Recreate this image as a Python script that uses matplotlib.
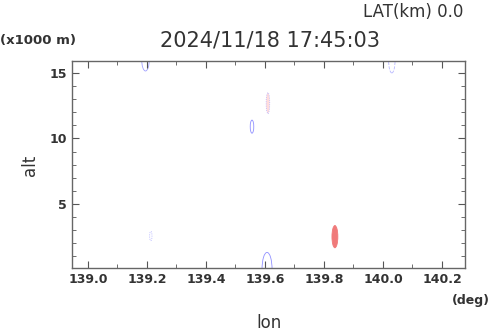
import matplotlib
matplotlib.use("Agg")
import matplotlib.pyplot as plt
from matplotlib.patches import Ellipse
from matplotlib.ticker import MultipleLocator

# echo blobs (lon, alt, width deg, height km)
blob_lon = [139.195, 140.030, 139.556, 139.610, 139.837, 139.213, 139.607]
blob_alt = [16.05, 16.0, 10.9, 12.7, 2.50, 2.55, 0.0]
blob_w = [0.026, 0.022, 0.012, 0.012, 0.020, 0.008, 0.034]
blob_h = [1.8, 2.0, 1.0, 1.6, 1.7, 0.7, 2.6]
blob_fill = ["none", "none", "none", "#ffdcdc", "#f07a7a", "none", "none"]
blob_edge = ["#a0a0ff", "#b8b8ff", "#9090ff", "#b0b0ff", "#f07a7a", "#a8a8ff", "#9090ff"]
blob_ls = ["-", "--", "-", ":", "-", ":", "-"]

xticks = [139.0, 139.2, 139.4, 139.6, 139.8, 140.0, 140.2]
yticks = [5, 10, 15]

txt = "#333333"
fig = plt.figure(figsize=(4.9, 3.31), dpi=100)
ax = fig.add_axes([0.147, 0.190, 0.802, 0.626])

for i in range(len(blob_lon)):
    e = Ellipse((blob_lon[i], blob_alt[i]), blob_w[i], blob_h[i],
                facecolor=blob_fill[i], edgecolor=blob_edge[i],
                linewidth=0.6, linestyle=blob_ls[i])
    ax.add_patch(e)

ax.set_xlim(138.946, 140.278)
ax.set_ylim(0.1, 15.92)
ax.set_xticks(xticks)
ax.set_xticklabels(["%.1f" % v for v in xticks])
ax.set_yticks(yticks)
ax.xaxis.set_minor_locator(MultipleLocator(0.1))
ax.yaxis.set_minor_locator(MultipleLocator(1))
ax.tick_params(which="both", direction="in", top=True, right=True,
               color="#555555", labelcolor=txt, labelsize=9)
ax.tick_params(which="major", length=5, width=0.8)
ax.tick_params(which="minor", length=3, width=0.6)
for lab in ax.get_xticklabels() + ax.get_yticklabels():
    lab.set_fontweight("bold")
for s in ax.spines.values():
    s.set_color("#666666")
    s.set_linewidth(1.0)

fig.text(0.945, 0.965, "LAT(km) 0.0", ha="right", va="center", fontsize=12, color=txt)
fig.text(0.55, 0.878, "2024/11/18 17:45:03", ha="center", va="center", fontsize=15, color=txt)
fig.text(0.0, 0.878, "(x1000 m)", ha="left", va="center", fontsize=9.5, fontweight="bold", color=txt)
fig.text(1.0, 0.092, "(deg)", ha="right", va="center", fontsize=9, fontweight="bold", color=txt)
fig.text(0.548, 0.025, "lon", ha="center", va="center", fontsize=12, color=txt)
fig.text(0.062, 0.50, "alt", ha="center", va="center", fontsize=12, color=txt, rotation=90)

fig.savefig("out.png", dpi=100)
